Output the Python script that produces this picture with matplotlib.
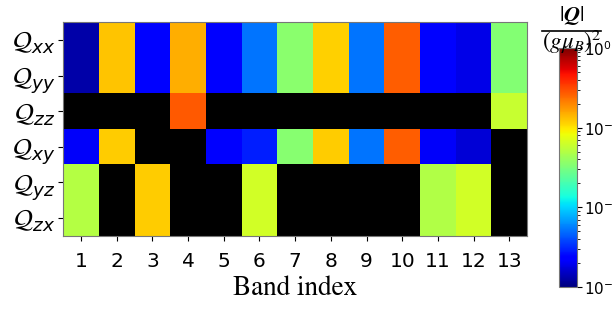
import numpy as np
import matplotlib
matplotlib.use('Agg')
import matplotlib.pyplot as plt
from matplotlib.colors import LogNorm
from matplotlib.lines import Line2D

#=====data=====
bands = [1, 2, 3, 4, 5, 6, 7, 8, 9, 10, 11, 12, 13]
components = [r'$\mathcal{Q}_{xx}$', r'$\mathcal{Q}_{yy}$', r'$\mathcal{Q}_{zz}$',
              r'$\mathcal{Q}_{xy}$', r'$\mathcal{Q}_{yz}$', r'$\mathcal{Q}_{zx}$']

# |Q|/(g mu_B)^2, 0 = vanishing (drawn black)
Q_xx = [1.3e-3, 0.126, 2.4e-3, 0.15, 2.3e-3, 5.2e-3, 0.036, 0.117, 5.2e-3, 0.27, 2.4e-3, 1.9e-3, 0.034]
Q_yy = [1.3e-3, 0.126, 2.4e-3, 0.15, 2.3e-3, 5.2e-3, 0.036, 0.117, 5.2e-3, 0.27, 2.4e-3, 1.9e-3, 0.034]
Q_zz = [0, 0, 0, 0.28, 0, 0, 0, 0, 0, 0, 0, 0, 0.059]
Q_xy = [2.1e-3, 0.12, 0, 0, 2.2e-3, 2.9e-3, 0.035, 0.12, 5.2e-3, 0.27, 2.1e-3, 1.7e-3, 0]
Q_yz = [0.051, 0, 0.12, 0, 0, 0.065, 0, 0, 0, 0, 0.049, 0.065, 0]
Q_zx = [0.051, 0, 0.12, 0, 0, 0.065, 0, 0, 0, 0, 0.049, 0.065, 0]

#----------Plot-----------
plt.rcParams['mathtext.fontset'] = 'stix'
Z = np.array([Q_xx, Q_yy, Q_zz, Q_xy, Q_yz, Q_zx])
Z = np.ma.masked_less_equal(Z, 0)

cmap = plt.get_cmap('jet').copy()
cmap.set_bad('black')

fig = plt.figure(figsize=(6.13, 3.12), dpi=100)
ax = fig.add_axes([0.103, 0.245, 0.757, 0.684])
cax = fig.add_axes([0.912, 0.080, 0.029, 0.766])

x = np.arange(len(bands) + 1) + 0.5
y = np.arange(len(components) + 1) - 0.5
mesh = ax.pcolormesh(x, y, Z, cmap=cmap, norm=LogNorm(vmin=1e-3, vmax=1))
ax.set_xlim(0.5, len(bands) + 0.5)
ax.set_ylim(len(components) - 0.5, -0.5)

ax.set_xticks(bands)
ax.set_xticklabels([str(b) for b in bands], fontsize=14.5)
ax.tick_params(axis='x', pad=8)
ax.set_yticks(range(len(components)))
ax.set_yticklabels(components, fontsize=19, math_fontfamily='dejavusans')
ax.tick_params(axis='y', pad=2)
ax.set_xlabel('Band index', fontsize=19.5, family='STIXGeneral', labelpad=4)
for s in ax.spines.values():
    s.set_color('#777777')

cb = fig.colorbar(mesh, cax=cax)
cb.ax.tick_params(labelsize=11, pad=2)
cb.outline.set_edgecolor('#777777')

# colorbar title as a stacked fraction
fig.text(0.932, 0.950, r'$|\boldsymbol{Q}|$', fontsize=16, ha='center', va='center')
fig.add_artist(Line2D([0.884, 0.980], [0.901, 0.901], color='black', lw=1.2))
fig.text(0.932, 0.866, r'$(g\mu_B)^2$', fontsize=16.5, ha='center', va='center')

plt.savefig('out.png', dpi=100)
